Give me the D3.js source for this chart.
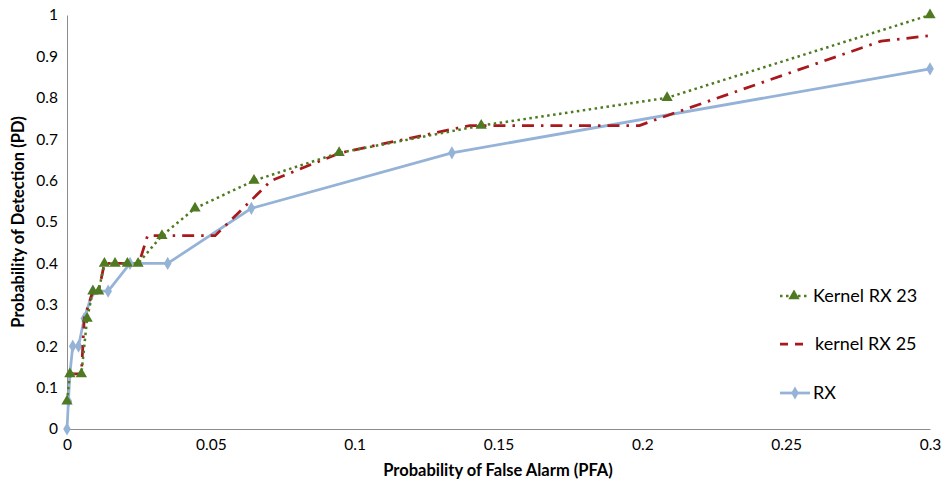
<!DOCTYPE html>
<html>
<head>
<meta charset="utf-8">
<script src="https://cdn.jsdelivr.net/npm/d3@7"></script>
<style>
  body { margin: 0; background: #fff; }
  svg { display: block; }
</style>
</head>
<body>
<svg id="chart" width="947" height="484"></svg>
<script>
// data
var k23X = [0, 0.001, 0.005, 0.007, 0.009, 0.011, 0.013, 0.0167, 0.021, 0.0247, 0.033, 0.0445, 0.065, 0.0946, 0.144, 0.2086, 0.3];
var k23Y = [0.067, 0.133, 0.133, 0.267, 0.333, 0.333, 0.4, 0.4, 0.4, 0.4, 0.467, 0.533, 0.6, 0.667, 0.733, 0.8, 1.0];

var k25X = [0.001, 0.005, 0.006, 0.009, 0.011, 0.013, 0.02, 0.025, 0.028, 0.0515, 0.071, 0.095, 0.14, 0.199, 0.209, 0.283, 0.3];
var k25Y = [0.133, 0.133, 0.267, 0.333, 0.333, 0.4, 0.4, 0.4, 0.467, 0.467, 0.6, 0.667, 0.733, 0.733, 0.758, 0.937, 0.95];

var rxX = [0, 0.0005, 0.001, 0.002, 0.004, 0.006, 0.009, 0.0143, 0.0219, 0.035, 0.0641, 0.1338, 0.3];
var rxY = [0, 0.067, 0.133, 0.2, 0.2, 0.267, 0.333, 0.333, 0.4, 0.4, 0.533, 0.667, 0.87];

var xTicks = [0, 0.05, 0.1, 0.15, 0.2, 0.25, 0.3];
var yTicks = [0, 0.1, 0.2, 0.3, 0.4, 0.5, 0.6, 0.7, 0.8, 0.9, 1];
var seriesNames = ["Kernel RX 23", "kernel RX 25", "RX"];

var green = "#4f7a21", red = "#a8181c", blue = "#95b3d7";
var font = "Lato, 'Open Sans', sans-serif";

var svg = d3.select("#chart");
var x = d3.scaleLinear().domain([0, 0.3]).range([67, 930]);
var y = d3.scaleLinear().domain([0, 1]).range([429, 15]);

function zip(xs, ys) { return xs.map(function(v, i) { return [v, ys[i]]; }); }

// axes
var xAxis = svg.append("g").attr("transform", "translate(0,429)")
    .call(d3.axisBottom(x).tickValues(xTicks).tickSize(0).tickFormat(d3.format("")));
var yAxis = svg.append("g").attr("transform", "translate(67,0)")
    .call(d3.axisLeft(y).tickValues(yTicks).tickSize(0).tickFormat(d3.format("")));
[xAxis, yAxis].forEach(function(a) {
  a.select(".domain").attr("stroke", "#8c8c8c").attr("stroke-width", 1);
  a.selectAll("text").attr("fill", "#000").style("font-family", font).style("font-size", "15.5px");
});
xAxis.selectAll("text").attr("dy", "1.15em");
yAxis.selectAll("text").attr("x", -9);

svg.append("text").attr("x", 498).attr("y", 476).attr("text-anchor", "middle")
  .style("font-family", font).style("font-weight", "bold").style("font-size", "16.5px")
  .text("Probability  of False Alarm (PFA)");
svg.append("text").attr("transform", "translate(24,222) rotate(-90)").attr("text-anchor", "middle")
  .style("font-family", font).style("font-weight", "bold").style("font-size", "16.5px")
  .text("Probability  of Detection (PD)");

var line = d3.line().x(function(d) { return x(d[0]); }).y(function(d) { return y(d[1]); });

// RX
var rx = zip(rxX, rxY);
svg.append("path").datum(rx).attr("d", line).attr("fill", "none")
  .attr("stroke", blue).attr("stroke-width", 2.75);
svg.selectAll(".rxm").data(rx).enter().append("path").attr("class", "rxm")
  .attr("d", d3.symbol().type(d3.symbolDiamond).size(50))
  .attr("transform", function(d) { return "translate(" + x(d[0]) + "," + y(d[1]) + ")"; })
  .attr("fill", blue);

// kernel RX 25
var k25 = zip(k25X, k25Y);
svg.append("path").datum(k25).attr("d", line).attr("fill", "none")
  .attr("stroke", red).attr("stroke-width", 2.75).attr("stroke-dasharray", "12,7,2.5,7");

// kernel RX 23
var k23 = zip(k23X, k23Y);
svg.append("path").datum(k23).attr("d", line).attr("fill", "none")
  .attr("stroke", green).attr("stroke-width", 2.5).attr("stroke-dasharray", "2.5,3.5");
svg.selectAll(".k23m").data(k23).enter().append("path").attr("class", "k23m")
  .attr("d", d3.symbol().type(d3.symbolTriangle).size(55))
  .attr("transform", function(d) { return "translate(" + x(d[0]) + "," + y(d[1]) + ")"; })
  .attr("fill", green);

// legend
var leg = svg.append("g");
var legY = [296, 344, 393];
leg.append("line").attr("x1", 780).attr("x2", 809).attr("y1", legY[0]).attr("y2", legY[0])
  .attr("stroke", green).attr("stroke-width", 2.5).attr("stroke-dasharray", "2.5,3.5");
leg.append("path").attr("d", d3.symbol().type(d3.symbolTriangle).size(55))
  .attr("transform", "translate(794," + legY[0] + ")").attr("fill", green);
leg.append("line").attr("x1", 780).attr("x2", 803).attr("y1", legY[1]).attr("y2", legY[1])
  .attr("stroke", red).attr("stroke-width", 2.75).attr("stroke-dasharray", "8,7");
leg.append("line").attr("x1", 780).attr("x2", 810).attr("y1", legY[2]).attr("y2", legY[2])
  .attr("stroke", blue).attr("stroke-width", 2.75);
leg.append("path").attr("d", d3.symbol().type(d3.symbolDiamond).size(50))
  .attr("transform", "translate(795," + legY[2] + ")").attr("fill", blue);
leg.selectAll("text").data(seriesNames).enter().append("text")
  .attr("x", function(d, i) { return i === 1 ? 815 : 813; })
  .attr("y", function(d, i) { return legY[i] + 6; })
  .style("font-family", font).style("font-size", "18px").attr("fill", "#000")
  .text(function(d) { return d; });
</script>
</body>
</html>
